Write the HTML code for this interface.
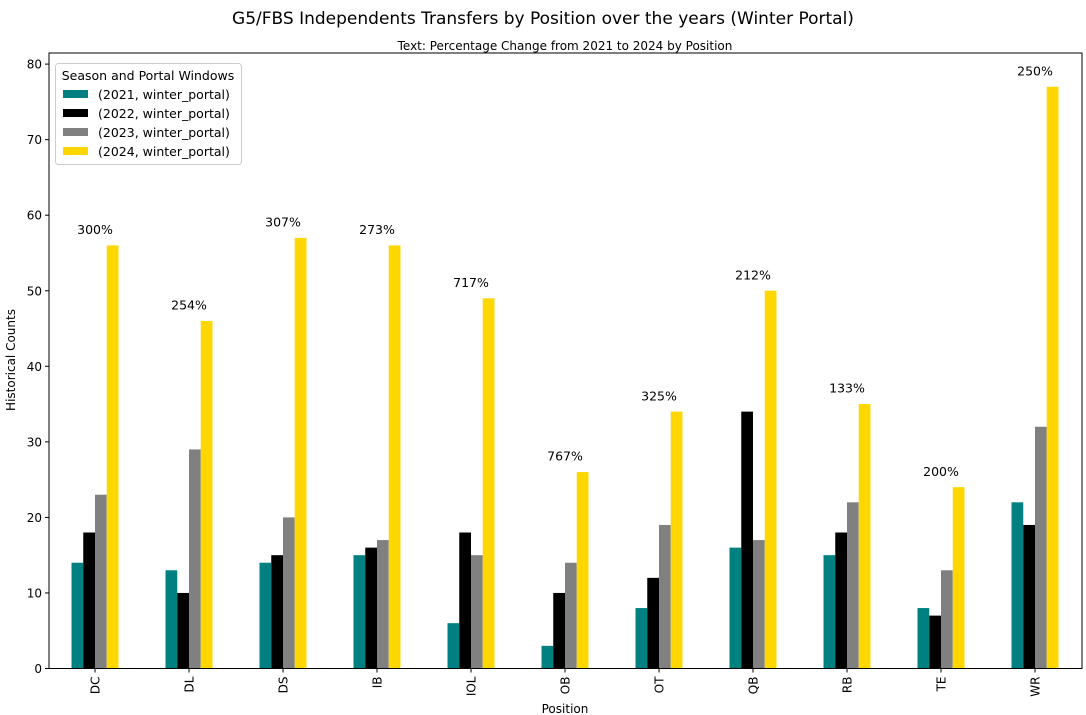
<!DOCTYPE html>
<html><head><meta charset="utf-8"><style>
html,body{margin:0;padding:0;background:#fff;}
svg{display:block;font-family:"DejaVu Sans","Liberation Sans",sans-serif;}
</style></head><body>
<svg width="1086" height="715" viewBox="0 0 1086 715" xmlns="http://www.w3.org/2000/svg">
<rect width="1086" height="715" fill="#fff"/>
<text x="543" y="24" font-size="17" text-anchor="middle">G5/FBS Independents Transfers by Position over the years (Winter Portal)</text>
<text x="565" y="50" font-size="12" text-anchor="middle">Text: Percentage Change from 2021 to 2024 by Position</text>
<g transform="translate(0,668.5) scale(1,-7.555)">
<g fill="#008080">
<rect x="71.5" y="0" width="11.75" height="14"/>
<rect x="165.5" y="0" width="11.75" height="13"/>
<rect x="259.5" y="0" width="11.75" height="14"/>
<rect x="353.5" y="0" width="11.75" height="15"/>
<rect x="447.5" y="0" width="11.75" height="6"/>
<rect x="541.5" y="0" width="11.75" height="3"/>
<rect x="635.5" y="0" width="11.75" height="8"/>
<rect x="729.5" y="0" width="11.75" height="16"/>
<rect x="823.5" y="0" width="11.75" height="15"/>
<rect x="917.5" y="0" width="11.75" height="8"/>
<rect x="1011.5" y="0" width="11.75" height="22"/>
</g>
<g fill="#000">
<rect x="83.25" y="0" width="11.75" height="18"/>
<rect x="177.25" y="0" width="11.75" height="10"/>
<rect x="271.25" y="0" width="11.75" height="15"/>
<rect x="365.25" y="0" width="11.75" height="16"/>
<rect x="459.25" y="0" width="11.75" height="18"/>
<rect x="553.25" y="0" width="11.75" height="10"/>
<rect x="647.25" y="0" width="11.75" height="12"/>
<rect x="741.25" y="0" width="11.75" height="34"/>
<rect x="835.25" y="0" width="11.75" height="18"/>
<rect x="929.25" y="0" width="11.75" height="7"/>
<rect x="1023.25" y="0" width="11.75" height="19"/>
</g>
<g fill="#808080">
<rect x="95" y="0" width="11.75" height="23"/>
<rect x="189" y="0" width="11.75" height="29"/>
<rect x="283" y="0" width="11.75" height="20"/>
<rect x="377" y="0" width="11.75" height="17"/>
<rect x="471" y="0" width="11.75" height="15"/>
<rect x="565" y="0" width="11.75" height="14"/>
<rect x="659" y="0" width="11.75" height="19"/>
<rect x="753" y="0" width="11.75" height="17"/>
<rect x="847" y="0" width="11.75" height="22"/>
<rect x="941" y="0" width="11.75" height="13"/>
<rect x="1035" y="0" width="11.75" height="32"/>
</g>
<g fill="#FFD700">
<rect x="106.75" y="0" width="11.75" height="56"/>
<rect x="200.75" y="0" width="11.75" height="46"/>
<rect x="294.75" y="0" width="11.75" height="57"/>
<rect x="388.75" y="0" width="11.75" height="56"/>
<rect x="482.75" y="0" width="11.75" height="49"/>
<rect x="576.75" y="0" width="11.75" height="26"/>
<rect x="670.75" y="0" width="11.75" height="34"/>
<rect x="764.75" y="0" width="11.75" height="50"/>
<rect x="858.75" y="0" width="11.75" height="35"/>
<rect x="952.75" y="0" width="11.75" height="24"/>
<rect x="1046.75" y="0" width="11.75" height="77"/>
</g>
</g>
<g font-size="12.5" text-anchor="middle">
<text x="95" y="234">300%</text>
<text x="189" y="309.5">254%</text>
<text x="283" y="226.5">307%</text>
<text x="377" y="234">273%</text>
<text x="471" y="287">717%</text>
<text x="565" y="460.7">767%</text>
<text x="659" y="400.3">325%</text>
<text x="753" y="279.4">212%</text>
<text x="847" y="392.7">133%</text>
<text x="941" y="475.8">200%</text>
<text x="1035" y="75.4">250%</text>
</g>
<rect x="49" y="53" width="1033" height="615.5" fill="none" stroke="#000" stroke-width="1"/>
<g stroke="#000">
<line x1="95" y1="668.5" x2="95" y2="672.5"/><line x1="189" y1="668.5" x2="189" y2="672.5"/><line x1="283" y1="668.5" x2="283" y2="672.5"/><line x1="377" y1="668.5" x2="377" y2="672.5"/><line x1="471" y1="668.5" x2="471" y2="672.5"/><line x1="565" y1="668.5" x2="565" y2="672.5"/><line x1="659" y1="668.5" x2="659" y2="672.5"/><line x1="753" y1="668.5" x2="753" y2="672.5"/><line x1="847" y1="668.5" x2="847" y2="672.5"/><line x1="941" y1="668.5" x2="941" y2="672.5"/><line x1="1035" y1="668.5" x2="1035" y2="672.5"/>
<line x1="45" y1="668.5" x2="49" y2="668.5"/><line x1="45" y1="592.95" x2="49" y2="592.95"/><line x1="45" y1="517.4" x2="49" y2="517.4"/><line x1="45" y1="441.85" x2="49" y2="441.85"/><line x1="45" y1="366.3" x2="49" y2="366.3"/><line x1="45" y1="290.75" x2="49" y2="290.75"/><line x1="45" y1="215.2" x2="49" y2="215.2"/><line x1="45" y1="139.65" x2="49" y2="139.65"/><line x1="45" y1="64.1" x2="49" y2="64.1"/>
</g>
<g font-size="12" text-anchor="end">
<text x="42" y="673">0</text><text x="42" y="597.5">10</text><text x="42" y="522">20</text><text x="42" y="446.4">30</text><text x="42" y="370.8">40</text><text x="42" y="295.3">50</text><text x="42" y="219.7">60</text><text x="42" y="144.2">70</text><text x="42" y="68.6">80</text>
</g>
<g font-size="12" text-anchor="end">
<text transform="translate(99.5,676.5) rotate(-90)">DC</text>
<text transform="translate(193.5,676.5) rotate(-90)">DL</text>
<text transform="translate(287.5,676.5) rotate(-90)">DS</text>
<text transform="translate(381.5,676.5) rotate(-90)">IB</text>
<text transform="translate(475.5,676.5) rotate(-90)">IOL</text>
<text transform="translate(569.5,676.5) rotate(-90)">OB</text>
<text transform="translate(663.5,676.5) rotate(-90)">OT</text>
<text transform="translate(757.5,676.5) rotate(-90)">QB</text>
<text transform="translate(851.5,676.5) rotate(-90)">RB</text>
<text transform="translate(945.5,676.5) rotate(-90)">TE</text>
<text transform="translate(1039.5,676.5) rotate(-90)">WR</text>
</g>
<text x="565" y="713" font-size="12" text-anchor="middle">Position</text>
<text transform="translate(15,360) rotate(-90)" font-size="12" text-anchor="middle">Historical Counts</text>
<rect x="55.5" y="63.5" width="186" height="101" rx="3" fill="#fff" fill-opacity="0.8" stroke="#ccc"/>
<text x="148" y="80" font-size="12.5" text-anchor="middle">Season and Portal Windows</text>
<rect x="63" y="90" width="25" height="8" fill="#008080"/>
<rect x="63" y="109" width="25" height="8" fill="#000"/>
<rect x="63" y="128" width="25" height="8" fill="#808080"/>
<rect x="63" y="147" width="25" height="8" fill="#FFD700"/>
<text x="98" y="99" font-size="12.5">(2021, winter_portal)</text>
<text x="98" y="118" font-size="12.5">(2022, winter_portal)</text>
<text x="98" y="137" font-size="12.5">(2023, winter_portal)</text>
<text x="98" y="156" font-size="12.5">(2024, winter_portal)</text>
</svg>
</body></html>
